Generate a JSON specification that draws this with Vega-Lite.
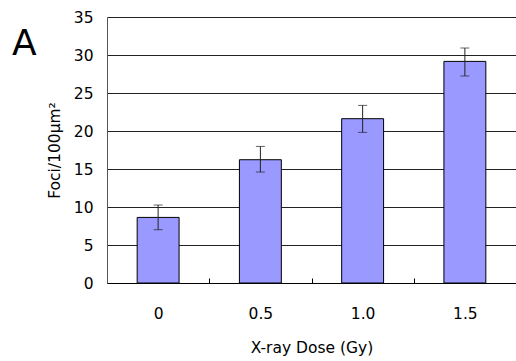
{
  "$schema": "https://vega.github.io/schema/vega-lite/v6.json",
  "width": 409,
  "height": 266,
  "autosize": "none",
  "padding": {"left": 107, "top": 17, "right": 0, "bottom": 78},
  "background": "white",
  "title": {
    "text": "A",
    "anchor": "start",
    "frame": "group",
    "dx": -95,
    "dy": 81,
    "offset": 0,
    "baseline": "alphabetic",
    "fontSize": 36,
    "font": "DejaVu Sans",
    "fontWeight": "normal",
    "color": "#000"
  },
  "config": {
    "view": {"stroke": null},
    "axis": {
      "labelFont": "DejaVu Sans",
      "titleFont": "DejaVu Sans",
      "labelFontSize": 15.5,
      "titleFontSize": 15.5,
      "titleFontWeight": "normal",
      "labelColor": "#000",
      "titleColor": "#000"
    }
  },
  "data": {
    "values": [
      {"dose": "0", "foci": 8.63, "lo": 7.01, "hi": 10.26},
      {"dose": "0.5", "foci": 16.22, "lo": 14.6, "hi": 17.97},
      {"dose": "1.0", "foci": 21.62, "lo": 19.82, "hi": 23.37},
      {"dose": "1.5", "foci": 29.16, "lo": 27.24, "hi": 30.92}
    ]
  },
  "encoding": {
    "x": {
      "field": "dose",
      "type": "ordinal",
      "sort": null,
      "scale": {"paddingInner": 0, "paddingOuter": 0},
      "axis": {
        "title": "X-ray Dose (Gy)",
        "labelAngle": 0,
        "tickBand": "extent",
        "tickSize": -5,
        "tickColor": "#000",
        "domainColor": "#000",
        "domainWidth": 1,
        "labelPadding": 28,
        "titlePadding": 19,
        "grid": false
      }
    },
    "y": {
      "field": "foci",
      "type": "quantitative",
      "title": "Foci/100µm²",
      "scale": {"domain": [0, 35], "nice": false},
      "axis": {
        "values": [0, 5, 10, 15, 20, 25, 30, 35],
        "tickCount": 8,
        "grid": true,
        "gridColor": "#222",
        "gridWidth": 1,
        "ticks": false,
        "domainColor": "#555",
        "labelPadding": 14,
        "titlePadding": 11,
        "labelOverlap": false
      }
    }
  },
  "layer": [
    {
      "mark": {"type": "bar", "width": {"band": 0.41}, "fill": "#9999FF", "stroke": "#000", "strokeWidth": 1}
    },
    {
      "mark": {"type": "errorbar", "ticks": {"size": 9, "thickness": 1, "color": "#222"}, "rule": {"color": "#222", "strokeWidth": 1}},
      "encoding": {
        "y": {"field": "lo", "type": "quantitative", "title": "Foci/100µm²"},
        "y2": {"field": "hi"}
      }
    }
  ]
}
